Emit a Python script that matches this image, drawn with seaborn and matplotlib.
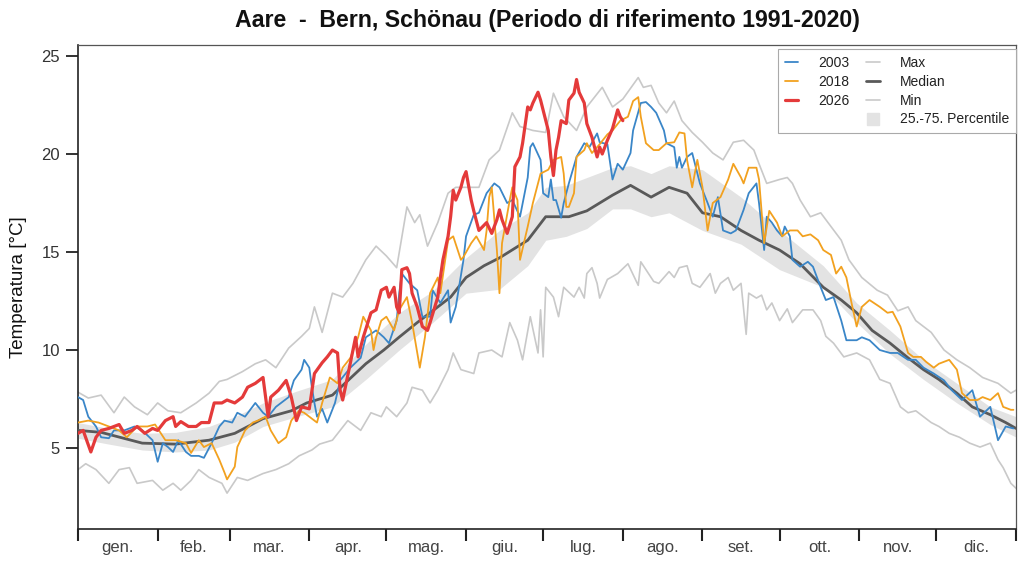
import matplotlib
matplotlib.use("Agg")
import matplotlib.pyplot as plt
from matplotlib.lines import Line2D
import numpy as np
import seaborn as sns

# Month boundaries (day of year) and labels
MONTH_STARTS = [0, 31, 59, 90, 120, 151, 181, 212, 243, 273, 304, 334, 365]
MONTH_LABELS = ["gen.", "feb.", "mar.", "apr.", "mag.", "giu.",
                "lug.", "ago.", "set.", "ott.", "nov.", "dic."]

# Reference period 1991-2020: median and 25-75 percentile band
MEDIAN_DAYS = [0, 9, 25, 38, 51, 61, 72, 83, 89, 99, 112, 119, 125, 132, 138, 145, 151, 158, 164, 175,
               182, 191, 198, 208, 215, 223, 230, 237, 243, 250, 258, 265, 273, 281, 290, 297, 303, 309,
               316, 323, 329, 335, 342, 348, 355, 361, 365]
MEDIAN_T = [5.9, 5.8, 5.25, 5.2, 5.4, 5.75, 6.5, 6.9, 7.3, 7.7, 9.3, 10.0, 10.66, 11.4, 12.0, 12.7, 13.7,
            14.3, 14.7, 15.6, 16.8, 16.8, 17.1, 17.9, 18.4, 17.8, 18.3, 18.0, 17.0, 16.8, 16.1, 15.6, 15.1,
            14.4, 13.2, 12.55, 11.9, 11.0, 10.35, 9.6, 9.0, 8.5, 7.8, 7.1, 6.7, 6.3, 6.0]

BAND_DAYS = [0, 12, 25, 38, 51, 61, 72, 85, 99, 112, 125, 138, 151, 164, 175, 182, 190, 198, 208, 215,
             223, 230, 243, 258, 273, 290, 303, 316, 329, 342, 355, 365]
P25_T = [5.5, 5.2, 4.9, 4.8, 4.9, 5.3, 6.1, 6.6, 7.1, 8.5, 10.0, 11.4, 12.9, 13.1, 14.3, 15.6, 15.8, 16.2,
         17.2, 17.2, 16.8, 17.0, 16.1, 15.4, 14.1, 13.2, 11.4, 9.8, 8.5, 7.3, 6.2, 5.56]
P75_T = [6.3, 6.0, 5.75, 5.8, 6.1, 6.6, 7.3, 7.9, 8.5, 10.3, 11.9, 13.0, 14.7, 16.1, 17.0, 18.3, 18.4, 18.8,
         19.3, 19.4, 19.0, 19.4, 19.2, 17.8, 16.1, 14.3, 12.4, 11.0, 9.5, 8.3, 7.1, 6.6]

MAX_DAYS = [0, 4, 9, 14, 18, 22, 27, 31, 35, 40, 46, 51, 55, 58, 64, 69, 73, 77, 82, 87,
            90, 92, 95, 99, 103, 107, 112, 116, 120, 124, 128, 131, 133, 136, 140, 144, 147, 151, 156, 160,
            164, 169, 172, 177, 182, 185, 189, 194, 198, 204, 208, 212, 218, 220, 223, 226, 229, 232, 235, 239,
            243, 247, 251, 255, 259, 263, 265, 268, 273, 276, 278, 281, 285, 289, 293, 297, 300, 305, 311, 315,
            319, 323, 326, 332, 337, 342, 347, 352, 358, 363, 365]
MAX_T = [7.85, 7.55, 7.7, 6.8, 7.6, 7.1, 6.7, 7.3, 6.9, 6.8, 7.3, 7.8, 8.4, 8.5, 8.9, 9.3, 9.5, 9.1, 10.1, 10.7,
         11.1, 12.2, 10.9, 12.9, 12.7, 13.4, 14.6, 15.3, 14.8, 14.2, 17.3, 16.5, 16.9, 15.3, 16.5, 18.0, 18.3,
         18.3, 18.3, 19.7, 20.2, 22.1, 21.4, 21.2, 21.1, 23.1, 21.9, 21.2, 22.4, 23.4, 22.4, 22.8, 23.9, 23.4,
         23.5, 22.6, 22.1, 22.7, 21.7, 21.1, 20.6, 20.05, 19.7, 20.6, 20.7, 20.2, 19.5, 18.5, 18.7, 18.8, 18.5,
         17.65, 16.8, 17.0, 16.3, 15.6, 14.6, 13.7, 13.05, 12.8, 12.0, 12.2, 11.5, 10.9, 10.0, 9.5, 9.1, 8.6,
         8.3, 7.8, 7.95]

MIN_DAYS = [0, 3, 7, 12, 16, 20, 23, 29, 33, 37, 40, 44, 47, 51, 56, 58, 62, 66, 72, 77,
            82, 86, 91, 94, 99, 105, 110, 114, 118, 120, 124, 128, 130, 134, 137, 140, 144, 146, 149, 154,
            156, 161, 165, 168, 171, 173, 176, 179, 180, 181, 182, 185, 187, 189, 193, 195, 197, 198, 200, 202,
            203, 206, 210, 214, 218, 219, 221, 224, 226, 230, 232, 234, 237, 239, 242, 246, 248, 250, 253, 255,
            258, 260, 261, 264, 266, 268, 270, 273, 276, 278, 282, 286, 289, 291, 294, 298, 303, 308, 312, 316,
            320, 323, 326, 332, 335, 339, 343, 347, 351, 355, 358, 360, 363, 365]
MIN_T = [3.9, 4.2, 3.9, 3.2, 3.9, 4.0, 3.2, 3.35, 2.85, 3.2, 2.85, 3.35, 3.9, 3.5, 3.2, 2.7, 3.5, 3.35, 3.7, 3.9,
         4.2, 4.6, 4.9, 5.2, 5.4, 6.4, 5.9, 6.8, 6.6, 7.1, 6.6, 7.3, 8.1, 7.95, 7.3, 7.95, 9.0, 9.85, 9.0, 8.8,
         9.85, 10.0, 9.65, 11.4, 10.5, 9.5, 11.7, 9.85, 12.05, 9.65, 13.2, 12.7, 11.7, 13.2, 12.7, 13.2, 12.65,
         13.9, 14.2, 13.4, 12.65, 13.6, 13.9, 14.4, 13.3, 14.5, 14.1, 13.5, 13.4, 14.0, 13.7, 14.2, 14.3, 13.4,
         13.2, 13.9, 12.9, 13.4, 13.7, 13.05, 13.4, 10.8, 12.9, 12.65, 12.8, 12.05, 12.4, 11.5, 12.1, 11.4,
         12.05, 12.05, 11.5, 10.7, 10.35, 9.65, 9.85, 9.5, 8.5, 8.3, 7.1, 6.8, 6.9, 6.3, 6.1, 5.75, 5.55, 5.25,
         5.05, 5.25, 4.4, 4.0, 3.2, 2.95]

# Single years
Y2003_DAYS = [0, 2, 4, 7, 9, 12, 14, 18, 22, 25, 29, 31, 33, 35, 37, 39, 42, 44, 47, 49,
              52, 55, 57, 60, 62, 65, 69, 72, 74, 77, 79, 82, 84, 87, 88, 90, 91, 92, 93, 95,
              97, 100, 102, 106, 110, 112, 116, 119, 121, 124, 125, 126, 129, 132, 134, 137, 138, 141, 144, 145,
              147, 150, 151, 154, 156, 159, 162, 164, 167, 169, 172, 175, 176, 177, 180, 181, 183, 184, 185, 186,
              188, 189, 191, 194, 197, 199, 202, 203, 206, 208, 210, 212, 215, 216, 219, 221, 223, 225, 228, 229,
              232, 233, 234, 235, 237, 239, 242, 245, 247, 249, 251, 254, 256, 259, 261, 264, 265, 267, 268, 270,
              272, 274, 275, 277, 278, 281, 284, 286, 289, 291, 294, 297, 299, 303, 305, 308, 312, 316, 319, 323,
              326, 329, 333, 337, 340, 344, 348, 351, 355, 358, 361, 364]
Y2003_T = [7.6, 7.45, 6.6, 6.1, 5.55, 5.5, 5.9, 5.9, 6.1, 5.9, 5.4, 4.3, 5.25, 5.05, 4.8, 5.4, 4.8, 4.6, 4.6, 4.5,
           5.25, 6.1, 6.4, 6.3, 6.8, 6.6, 7.3, 6.8, 6.6, 7.1, 7.3, 7.6, 8.45, 9.0, 9.5, 9.1, 8.1, 7.3, 6.6, 7.0,
           6.3, 7.3, 8.45, 9.1, 9.6, 10.65, 11.0, 10.65, 10.35, 11.5, 12.9, 13.9, 13.4, 13.05, 11.7, 11.7, 13.05,
           12.4, 13.05, 11.4, 12.2, 14.6, 15.8, 16.9, 17.0, 18.0, 18.5, 18.3, 17.5, 17.65, 16.8, 18.8, 20.35,
           20.55, 19.7, 18.0, 17.8, 18.7, 17.65, 17.65, 16.75, 17.5, 18.5, 19.85, 20.55, 20.35, 21.05, 20.6, 20.5,
           18.7, 19.5, 19.2, 20.05, 21.2, 22.6, 22.65, 22.4, 22.1, 21.2, 20.55, 20.35, 19.3, 19.85, 19.3, 19.85,
           20.05, 18.5, 17.5, 16.8, 17.8, 16.1, 15.95, 16.1, 17.15, 18.0, 18.5, 17.5, 15.1, 16.8, 16.5, 16.1,
           15.8, 16.3, 15.8, 14.6, 14.25, 14.5, 14.25, 13.2, 12.55, 12.7, 11.5, 10.5, 10.5, 10.65, 10.5, 10.0,
           9.85, 9.85, 9.5, 9.5, 9.1, 8.8, 8.45, 7.95, 7.45, 7.95, 6.6, 7.1, 5.4, 6.1, 6.0]

Y2018_DAYS = [0, 4, 8, 12, 16, 19, 23, 27, 30, 34, 38, 42, 44, 47, 49, 52, 55, 57, 58, 61,
              62, 65, 68, 70, 73, 75, 78, 81, 83, 86, 88, 90, 93, 95, 98, 101, 103, 106, 109, 111,
              114, 115, 116, 118, 120, 123, 125, 128, 130, 133, 135, 137, 140, 141, 144, 146, 149, 150, 153, 155,
              158, 159, 160, 161, 163, 164, 165, 168, 169, 171, 172, 175, 177, 180, 183, 185, 188, 189, 190, 191,
              193, 194, 197, 198, 200, 203, 206, 208, 211, 214, 216, 218, 219, 221, 224, 226, 229, 232, 234, 236,
              237, 239, 241, 243, 245, 247, 250, 253, 255, 258, 259, 261, 264, 265, 267, 269, 272, 274, 277, 280,
              282, 285, 288, 290, 293, 295, 297, 299, 301, 303, 305, 308, 312, 315, 317, 320, 323, 325, 328, 330,
              333, 335, 339, 342, 344, 347, 350, 352, 355, 358, 360, 363, 364]
Y2018_T = [6.3, 6.4, 6.3, 6.1, 5.9, 5.55, 6.1, 6.1, 6.2, 5.4, 5.4, 5.25, 4.75, 5.4, 5.05, 5.25, 4.4, 3.75, 3.4,
           4.05, 5.05, 5.9, 6.3, 6.4, 6.6, 5.9, 5.25, 5.55, 6.4, 6.9, 6.8, 6.6, 6.3, 7.3, 8.6, 8.3, 9.1, 9.6,
           10.65, 11.7, 11.0, 10.0, 10.65, 11.5, 11.7, 11.0, 12.05, 12.7, 11.4, 9.1, 10.65, 12.9, 13.7, 12.9,
           15.6, 15.8, 14.6, 14.75, 15.45, 15.8, 15.1, 16.1, 17.8, 18.3, 15.1, 12.9, 15.45, 17.65, 18.3, 17.65,
           14.6, 16.3, 17.5, 19.0, 19.2, 19.7, 19.85, 19.0, 17.3, 17.3, 18.0, 19.85, 20.2, 20.55, 20.05, 20.5,
           21.0, 21.2, 21.7, 21.9, 22.7, 22.9, 21.9, 20.55, 20.2, 20.2, 20.55, 20.6, 21.1, 21.05, 19.7, 18.3,
           19.7, 18.3, 16.1, 17.5, 17.8, 18.7, 19.5, 18.8, 18.5, 19.3, 19.3, 18.7, 15.45, 17.1, 16.5, 15.8,
           16.1, 16.1, 15.8, 15.9, 15.6, 15.1, 14.85, 13.9, 14.25, 13.7, 12.4, 11.2, 12.2, 12.55, 12.2, 11.9,
           11.95, 11.2, 9.85, 9.65, 9.65, 9.4, 9.1, 9.3, 9.5, 9.0, 7.8, 7.45, 7.45, 7.6, 7.45, 7.8, 7.1, 6.95,
           6.95]

Y2026_DAYS = [0, 2, 5, 7, 9, 12, 14, 16, 18, 21, 23, 26, 29, 31, 34, 37, 38, 40, 43, 46,
              48, 51, 53, 56, 58, 61, 64, 66, 69, 72, 74, 75, 78, 81, 83, 85, 87, 90, 92, 95,
              97, 99, 101, 102, 103, 106, 108, 109, 111, 114, 116, 118, 120, 121, 123, 124, 125, 126, 128, 129,
              130, 132, 133, 134, 136, 137, 140, 141, 142, 144, 145, 146, 147, 149, 150, 151, 153, 154, 156, 159,
              161, 163, 164, 165, 167, 169, 170, 172, 173, 175, 176, 177, 179, 180, 183, 184, 185, 186, 187, 188,
              190, 191, 193, 194, 195, 197, 198, 200, 202, 203, 204, 206, 208, 210, 211, 212]
Y2026_T = [5.75, 5.9, 4.8, 5.55, 5.9, 6.0, 6.1, 6.2, 5.75, 5.9, 6.1, 5.75, 6.0, 5.9, 6.4, 6.6, 6.1, 6.35, 6.1,
           6.1, 6.3, 6.3, 7.3, 7.3, 7.45, 7.3, 7.6, 8.1, 8.3, 8.6, 6.6, 7.6, 7.95, 8.45, 7.6, 6.4, 7.1, 7.0, 8.8,
           9.35, 9.65, 10.0, 9.85, 7.95, 7.45, 9.35, 10.65, 9.65, 10.65, 11.9, 12.05, 13.05, 13.2, 12.7, 13.2,
           12.2, 11.9, 14.1, 14.2, 13.9, 12.9, 12.2, 11.7, 11.2, 11.0, 11.4, 12.7, 13.7, 14.6, 15.8, 16.8, 18.15,
           17.65, 18.3, 18.8, 19.1, 17.65, 17.1, 16.1, 16.5, 15.95, 16.65, 17.15, 16.65, 15.95, 16.8, 19.35,
           19.85, 20.55, 22.4, 22.25, 22.6, 23.15, 22.75, 21.2, 19.85, 18.9, 20.2, 20.85, 21.7, 21.55, 22.75,
           23.1, 23.8, 23.15, 22.6, 21.55, 20.85, 19.85, 20.35, 20.0, 20.7, 21.3, 22.25, 21.9, 21.7]

# Colours
C_2003 = "#3a86c8"
C_2018 = "#f2a11f"
C_2026 = "#e43a3a"
C_MEDIAN = "#595959"
C_EXTREME = "#c9c9c9"
C_BAND = "#e3e3e3"

sns.set_theme(style="white")
plt.rcParams["font.family"] = ["Liberation Sans", "DejaVu Sans"]

fig = plt.figure(figsize=(10.24, 5.76), dpi=100)
ax = fig.add_axes([78 / 1024, 1 - 529 / 576, (1016 - 78) / 1024, (529 - 45) / 576])

# Percentile band
ax.fill_between(BAND_DAYS, P25_T, P75_T, color=C_BAND, linewidth=0, zorder=1)

# Lines
series = [
    (MAX_DAYS, MAX_T, C_EXTREME, 1.2, 2),
    (MIN_DAYS, MIN_T, C_EXTREME, 1.2, 2),
    (MEDIAN_DAYS, MEDIAN_T, C_MEDIAN, 2.0, 3),
    (Y2003_DAYS, Y2003_T, C_2003, 1.3, 4),
    (Y2018_DAYS, Y2018_T, C_2018, 1.3, 5),
    (Y2026_DAYS, Y2026_T, C_2026, 2.3, 6),
]
for days, temps, color, lw, z in series:
    sns.lineplot(x=days, y=temps, ax=ax, color=color, linewidth=lw, estimator=None,
                 sort=False, legend=False, zorder=z)

ax.set_xlim(0, 365)
ax.set_ylim(0.87, 25.56)

# X axis: ticks at month boundaries, labels at month centres
mids = [(a + b) / 2 for a, b in zip(MONTH_STARTS[:-1], MONTH_STARTS[1:])]
ax.set_xticks(MONTH_STARTS)
ax.set_xticklabels([])
ax.set_xticks(mids, minor=True)
ax.set_xticklabels(MONTH_LABELS, minor=True)
ax.tick_params(axis="x", which="major", bottom=True, length=8.5, width=1.5, color="#222222", direction="out")
ax.tick_params(axis="x", which="minor", bottom=True, length=0, pad=8, labelsize=12, labelcolor="#444444")

ax.set_yticks([5, 10, 15, 20, 25])
ax.tick_params(axis="y", left=True, length=9, width=1.3, color="#222222", direction="out",
               labelsize=12, labelcolor="#333333", pad=4)

ax.set_xlabel("")
ax.set_ylabel("Temperatura [°C]", fontsize=13.5, color="#111111", labelpad=10)

for side in ["left", "bottom"]:
    ax.spines[side].set_color("#222222")
    ax.spines[side].set_linewidth(1.2)
for side in ["top", "right"]:
    ax.spines[side].set_color("#555555")
    ax.spines[side].set_linewidth(0.9)

ax.set_title("Aare  -  Bern, Schönau (Periodo di riferimento 1991-2020)",
             fontsize=16.7, fontweight="bold", color="#111111", pad=13)

# Legend (two columns, blank slot under 2026)
handles = [
    Line2D([], [], color=C_2003, lw=1.3),
    Line2D([], [], color=C_2018, lw=1.3),
    Line2D([], [], color=C_2026, lw=2.3),
    Line2D([], [], color="none", lw=0),
    Line2D([], [], color=C_EXTREME, lw=1.2),
    Line2D([], [], color=C_MEDIAN, lw=2.0),
    Line2D([], [], color=C_EXTREME, lw=1.2),
    Line2D([], [], color=C_BAND, marker="s", markersize=8, linestyle="none"),
]
labels = ["2003", "2018", "2026", "", "Max", "Median", "Min", "25.-75. Percentile"]
leg = ax.legend(handles, labels, ncol=2, loc="upper right", bbox_to_anchor=(1.0, 0.992),
                borderaxespad=0, fontsize=10, frameon=True, fancybox=False, framealpha=1,
                edgecolor="#aaaaaa", handlelength=1.0, handletextpad=1.4, columnspacing=1.25,
                labelspacing=0.35, borderpad=0.5)
leg.get_frame().set_linewidth(0.8)
for t in leg.get_texts():
    t.set_color("#222222")

fig.savefig("out.png", dpi=100)
